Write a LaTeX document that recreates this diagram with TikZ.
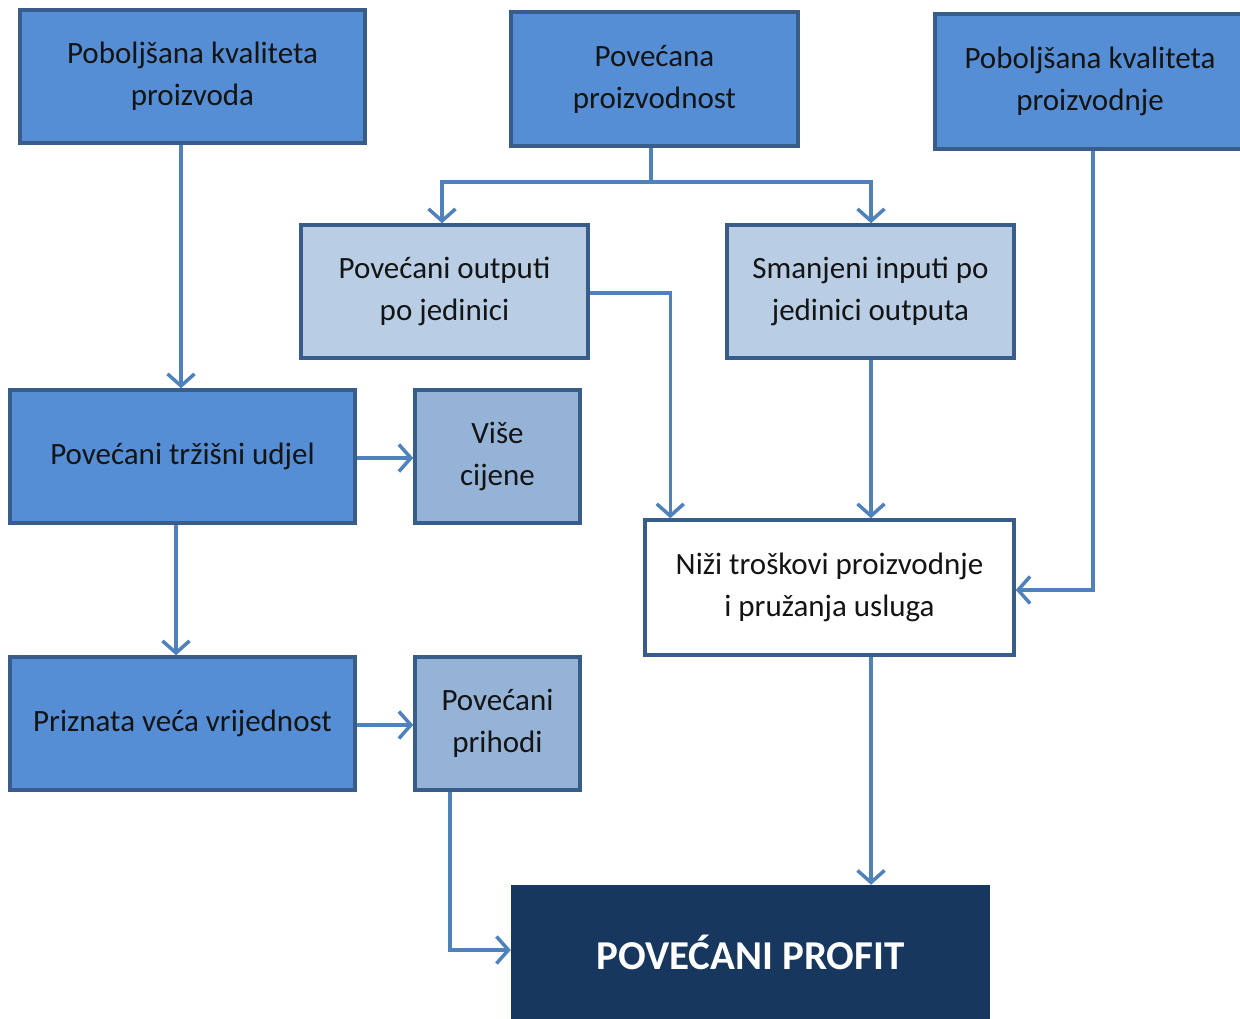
\documentclass[tikz,border=0pt]{standalone}
\usepackage{fontspec}
\setmainfont{Carlito}
\usetikzlibrary{arrows.meta,calc}
\definecolor{midblue}{RGB}{85,142,213}
\definecolor{lightblue}{RGB}{185,205,229}
\definecolor{greyblue}{RGB}{149,179,215}
\definecolor{darkblue}{RGB}{23,55,94}
\definecolor{edgeblue}{RGB}{56,93,138}
\definecolor{arrblue}{RGB}{79,129,189}
\definecolor{txt}{RGB}{20,20,20}
\tikzset{
  box/.style={draw=edgeblue, line width=3.5pt, align=center, inner sep=0pt,
    text=txt, font=\fontsize{31}{42}\selectfont},
  bmid/.style={box, fill=midblue},
  blight/.style={box, fill=lightblue},
  bgrey/.style={box, fill=greyblue},
  bwhite/.style={box, fill=white},
  bprofit/.style={fill=darkblue, text=white, align=center, inner sep=0pt,
    font=\fontsize{41}{46}\selectfont\bfseries},
  conn/.style={draw=arrblue, line width=3.5pt},
  arr/.style={conn, -{Straight Barb[length=12pt,width=27pt,line width=3.5pt]}}
}
\begin{document}
\begin{tikzpicture}[x=1pt,y=-1pt]
\useasboundingbox (0,0) rectangle (1240,1019);
\node[bmid, minimum width=345pt, minimum height=133pt] (A) at (192.5,76.5) {Poboljšana kvaliteta\\proizvoda};
\node[bmid, minimum width=287pt, minimum height=134pt] (B) at (654.5,79) {Povećana\\proizvodnost};
\node[bmid, minimum width=310pt, minimum height=135pt] (C) at (1090,81.5) {Poboljšana kvaliteta\\proizvodnje};
\node[blight, minimum width=287pt, minimum height=133pt] (D) at (444.5,291.5) {Povećani outputi\\po jedinici};
\node[blight, minimum width=287pt, minimum height=133pt] (E) at (870.5,291.5) {Smanjeni inputi po\\jedinici outputa};
\node[bmid, minimum width=345pt, minimum height=133pt] (F) at (182.5,456.5) {Povećani tržišni udjel};
\node[bgrey, minimum width=165pt, minimum height=133pt] (G) at (497.5,456.5) {Više\\cijene};
\node[bwhite, minimum width=369pt, minimum height=135pt] (H) at (829.5,587.5) {Niži troškovi proizvodnje\\i pružanja usluga};
\node[bmid, minimum width=345pt, minimum height=133pt] (I) at (182.5,723.5) {Priznata veća vrijednost};
\node[bgrey, minimum width=165pt, minimum height=133pt] (J) at (497.5,723.5) {Povećani\\prihodi};
\node[bprofit, minimum width=479pt, minimum height=134pt] (K) at (750.5,952) {POVEĆANI PROFIT};

\coordinate (bj) at (651,182);
\draw[arr] ($(A.south)+(-11.5,0)$) -- ($(F.north)+(-1.5,0)$);
\draw[conn] ($(B.south)+(-3.5,0)$) -- (bj);
\draw[arr] (bj) -| ($(D.north)+(-2.5,0)$);
\draw[arr] (bj) -| ($(E.north)+(0.5,0)$);
\draw[arr] ($(D.east)+(0,1.5)$) -| ($(H.north west)+(27,0)$);
\draw[arr] ($(E.south)+(0.5,0)$) -- ($(H.north)+(41.5,0)$);
\draw[arr] ($(C.south)+(3,0)$) |- ($(H.east)+(0,2.5)$);
\draw[arr] ($(F.east)+(0,1.5)$) -- ($(G.west)+(0,1.5)$);
\draw[arr] ($(F.south)+(-6.5,0)$) -- ($(I.north)+(-6.5,0)$);
\draw[arr] ($(I.east)+(0,1.5)$) -- ($(J.west)+(0,1.5)$);
\draw[arr] ($(J.south)+(-47.5,0)$) |- ($(K.west)+(0,-2)$);
\draw[arr] ($(H.south)+(41.5,0)$) -- ($(K.north)+(120.5,0)$);
\end{tikzpicture}
\end{document}
